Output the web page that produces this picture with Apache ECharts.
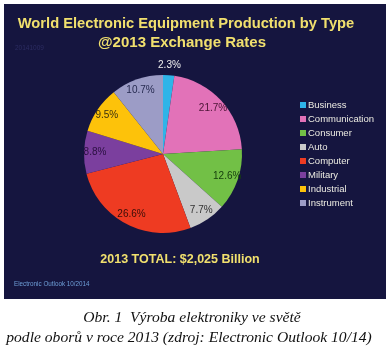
<!DOCTYPE html>
<html>
<head>
<meta charset="utf-8">
<script src="https://cdn.jsdelivr.net/npm/echarts@6/dist/echarts.min.js"></script>
<style>
  html, body { margin: 0; padding: 0; background: #ffffff; }
  #chart { width: 392px; height: 348px; }
</style>
</head>
<body>
<div id="chart"></div>
<script>
// Share of world electronic equipment production by type, 2013 (%)
const categories = ['Business', 'Communication', 'Consumer', 'Auto', 'Computer', 'Military', 'Industrial', 'Instrument'];
const shares = [2.3, 21.7, 12.6, 7.7, 26.6, 8.8, 9.5, 10.7];

const titleLines = ['World Electronic Equipment Production by Type', '@2013 Exchange Rates'];
const totalText = '2013 TOTAL: $2,025 Billion';
const sourceText = 'Electronic Outlook 10/2014';
const stampText = '20141009';
const captionLines = ['Obr. 1  Výroba elektroniky ve světě', 'podle oborů v roce 2013 (zdroj: Electronic Outlook 10/14)'];

// slice fills and the darker tones used for the percentage labels
const sliceColors = ['#2fb4e8', '#e272b8', '#72c046', '#c9c9c9', '#ee3b22', '#7b3f9e', '#fdc20a', '#9c9cc6'];
const labelColors = ['#f0f0f0', '#4a1434', '#17400e', '#333333', '#3a0e08', '#2a1040', '#3a3010', '#262a50'];

const CENTER = [163, 154];
const R = 79;

const pieData = categories.map((name, i) => ({
  name,
  value: shares[i],
  itemStyle: { color: sliceColors[i] }
}));

// transparent rings that only carry labels, so labels sit at a chosen radius
function labelRing(filter) {
  return categories.map((name, i) => ({
    name,
    value: shares[i],
    itemStyle: { color: 'rgba(0,0,0,0)' },
    label: {
      show: filter(i),
      color: labelColors[i]
    }
  }));
}

const chart = echarts.init(document.getElementById('chart'), null, { renderer: 'canvas' });

const sans = 'Liberation Sans, Arial, sans-serif';
const serif = 'Liberation Serif, Times New Roman, serif';

chart.setOption({
  animation: false,
  backgroundColor: '#ffffff',
  graphic: [
    { type: 'rect', z: -10, shape: { x: 4, y: 4, width: 382, height: 295 }, style: { fill: '#15153f' } },
    { type: 'text', x: 186, y: 24, style: { text: titleLines[0], fill: '#f1e06e', font: 'bold 14.7px ' + sans, textAlign: 'center', textVerticalAlign: 'middle' } },
    { type: 'text', x: 182, y: 43, style: { text: titleLines[1], fill: '#f1e06e', font: 'bold 15px ' + sans, textAlign: 'center', textVerticalAlign: 'middle' } },
    { type: 'text', x: 15, y: 48, style: { text: stampText, fill: '#2c2c62', font: '6.5px ' + sans, textAlign: 'left', textVerticalAlign: 'middle' } },
    { type: 'text', x: 180, y: 260, style: { text: totalText, fill: '#f1e06e', font: 'bold 12.5px ' + sans, textAlign: 'center', textVerticalAlign: 'middle' } },
    { type: 'text', x: 14, y: 284, style: { text: sourceText, fill: '#6f9fd8', font: '6.3px ' + sans, textAlign: 'left', textVerticalAlign: 'middle' } },
    { type: 'text', x: 192, y: 318, style: { text: captionLines[0], fill: '#111111', font: 'italic 15.6px ' + serif, textAlign: 'center', textVerticalAlign: 'middle' } },
    { type: 'text', x: 189, y: 338, style: { text: captionLines[1], fill: '#111111', font: 'italic 15.6px ' + serif, textAlign: 'center', textVerticalAlign: 'middle' } }
  ],
  legend: {
    orient: 'vertical',
    left: 300,
    top: 98,
    padding: 0,
    data: categories,
    icon: 'rect',
    itemWidth: 6,
    itemHeight: 6,
    itemGap: 0,
    selectedMode: false,
    textStyle: {
      color: '#ecebe2',
      fontFamily: sans,
      fontSize: 9.5,
      lineHeight: 14,
      padding: [0, 0, 0, -3]
    }
  },
  series: [
    {
      type: 'pie',
      center: CENTER,
      radius: [0, R],
      startAngle: 90,
      clockwise: true,
      silent: true,
      label: { show: false },
      labelLine: { show: false },
      data: pieData
    },
    {
      type: 'pie',
      center: CENTER,
      radius: [50, 80],
      startAngle: 90,
      clockwise: true,
      silent: true,
      legendHoverLink: false,
      label: {
        show: true,
        position: 'inside',
        formatter: (p) => p.value.toFixed(1) + '%',
        fontFamily: sans,
        fontSize: 10
      },
      labelLine: { show: false },
      data: labelRing((i) => i !== 0)
    },
    {
      type: 'pie',
      center: CENTER,
      radius: [80, 92],
      startAngle: 90,
      clockwise: true,
      silent: true,
      legendHoverLink: false,
      label: {
        show: true,
        position: 'inside',
        formatter: (p) => p.value.toFixed(1) + '%',
        fontFamily: sans,
        fontSize: 10
      },
      labelLine: { show: false },
      data: labelRing((i) => i === 0)
    }
  ]
});
</script>
</body>
</html>
